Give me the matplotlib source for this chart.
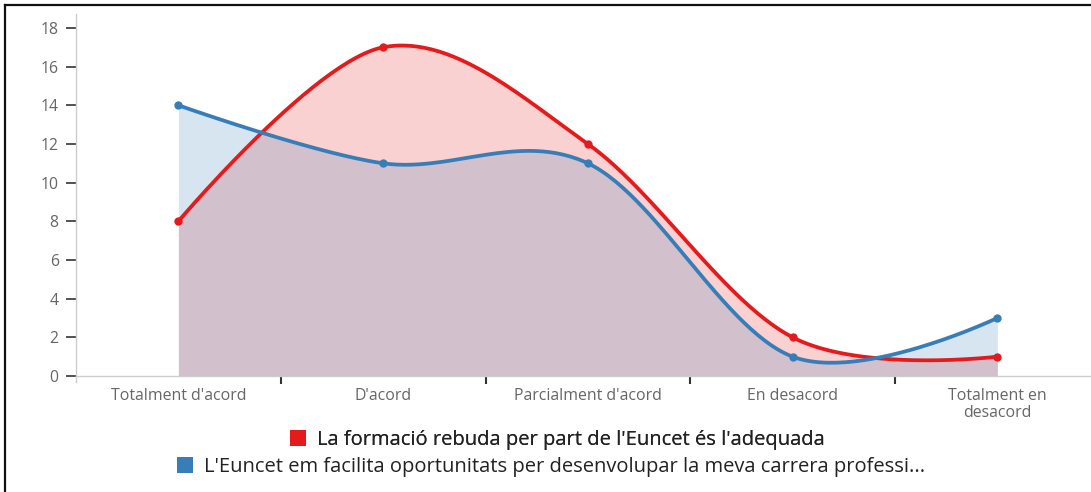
import numpy as np
import matplotlib
matplotlib.use("Agg")
import matplotlib.pyplot as plt
from matplotlib.patches import Patch
from matplotlib.lines import Line2D

categories = ["Totalment d'acord", "D'acord", "Parcialment d'acord", "En desacord", "Totalment en\ndesacord"]
series_names = ["La formació rebuda per part de l'Euncet és l'adequada",
                "L'Euncet em facilita oportunitats per desenvolupar la meva carrera professi..."]
red_values = [8, 17, 12, 2, 1]
blue_values = [14, 11, 11, 1, 3]
yticks = [0, 2, 4, 6, 8, 10, 12, 14, 16, 18]

RED = "#E41A1C"
BLUE = "#377EB8"

plt.rcParams['font.family'] = ['Open Sans', 'DejaVu Sans']


def cardinal_curve(xs, ys, n=60):
    """d3 curveCardinal (tension 0) evaluated as cubic Bezier segments."""
    xs = np.asarray(xs, float)
    ys = np.asarray(ys, float)
    P = np.column_stack([xs, ys])
    k = 1.0 / 6.0
    m = len(P)
    out = []
    for i in range(m - 1):
        p0 = P[i - 1] if i > 0 else None
        p1 = P[i]
        p2 = P[i + 1]
        p3 = P[i + 2] if i + 2 < m else None
        c1 = p1 + k * (p2 - p0) if p0 is not None else p1.copy()
        c2 = p2 - k * (p3 - p1) if p3 is not None else p2.copy()
        t = np.linspace(0, 1, n)[:, None]
        seg = ((1 - t) ** 3) * p1 + 3 * ((1 - t) ** 2) * t * c1 + 3 * (1 - t) * t ** 2 * c2 + t ** 3 * p2
        out.append(seg if i == 0 else seg[1:])
    out = np.vstack(out)
    return out[:, 0], out[:, 1]


fig = plt.figure(figsize=(10.91, 4.92), dpi=100)
ymin, ymax = -0.31, 18.72
ax = fig.add_axes([76 / 1091, 110 / 492, 1023.75 / 1091, 368 / 492])
ax.set_xlim(-0.5, 4.5)
ax.set_ylim(ymin, ymax)

x = np.arange(len(categories))
for vals, col in [(red_values, RED), (blue_values, BLUE)]:
    cx, cy = cardinal_curve(x, vals)
    ax.fill_between(cx, 0, cy, color=col, alpha=0.2, linewidth=0, zorder=1)

for vals, col in [(red_values, RED), (blue_values, BLUE)]:
    cx, cy = cardinal_curve(x, vals)
    ax.plot(cx, cy, color=col, linewidth=2.7, solid_capstyle='round', zorder=3)
    ax.plot(x, vals, 'o', color=col, markersize=5, zorder=4)

# spines
for s in ['top', 'right']:
    ax.spines[s].set_visible(False)
ax.spines['left'].set_color('#cccccc')
ax.spines['left'].set_linewidth(1)
ax.spines['bottom'].set_position(('data', 0))
ax.spines['bottom'].set_color('#cccccc')
ax.spines['bottom'].set_linewidth(1)

ax.set_yticks(yticks)
ax.set_yticklabels([str(v) for v in yticks])
ax.tick_params(axis='y', length=7, width=1.2, color='#333333', labelcolor='#666666',
               labelsize=11.3, pad=5.5)

ax.set_xticks([0.5, 1.5, 2.5, 3.5], minor=False)
ax.set_xticklabels([])
ax.tick_params(axis='x', which='major', length=6, width=1.5, color='#333333', direction='out')
ax.set_xticks(x, minor=True)
ax.set_xticklabels(categories, minor=True)
ax.tick_params(axis='x', which='minor', length=0, labelcolor='#666666', labelsize=11.4, pad=8.5)
for lab in ax.get_xticklabels(minor=True):
    lab.set_linespacing(1.1)

# legend rows, each centered
leg_kw = dict(loc='center', frameon=False, fontsize=14.5, handlelength=0.78, handleheight=0.78,
              handletextpad=0.55, labelcolor='#222222', borderpad=0)
leg1 = fig.legend(handles=[Patch(facecolor=RED, edgecolor='none')], labels=[series_names[0]],
                  bbox_to_anchor=(0.511, 1 - 440 / 492), **leg_kw)
leg2 = fig.legend(handles=[Patch(facecolor=BLUE, edgecolor='none')], labels=[series_names[1]],
                  bbox_to_anchor=(0.505, 1 - 467 / 492), **leg_kw)
fig.add_artist(leg1)

# figure border (top and left)
fig.add_artist(Line2D([5 / 1091, 1.0], [1 - 5 / 492, 1 - 5 / 492], color='#111111', linewidth=1.6,
                      transform=fig.transFigure))
fig.add_artist(Line2D([5 / 1091, 5 / 1091], [0, 1 - 5 / 492], color='#111111', linewidth=1.6,
                      transform=fig.transFigure))

fig.savefig("out.png", dpi=100)
